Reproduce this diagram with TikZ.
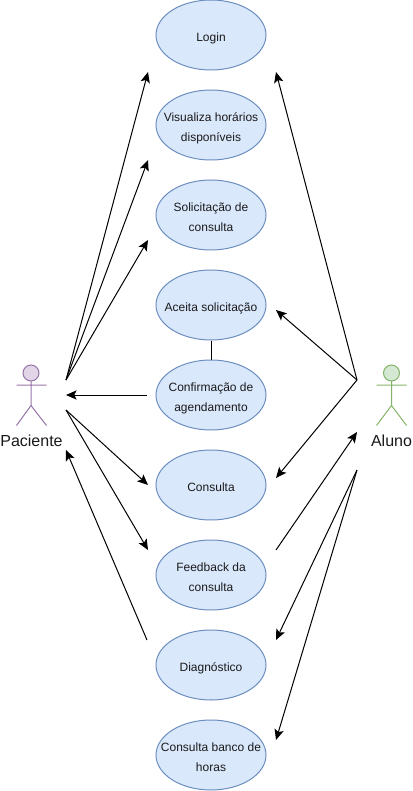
\documentclass[tikz,border=0pt]{standalone}
\usepackage{fontspec}
\setmainfont{Liberation Sans}
\usetikzlibrary{arrows.meta,shapes.geometric}
\definecolor{ucfill}{HTML}{DAE8FC}
\definecolor{ucline}{HTML}{6C8EBF}
\definecolor{pfill}{HTML}{E1D5E7}
\definecolor{pline}{HTML}{9673A6}
\definecolor{afill}{HTML}{D5E8D4}
\definecolor{aline}{HTML}{82B366}
\definecolor{txt}{HTML}{1A1A1A}
\newcommand{\uctext}[1]{\makebox[0pt]{\raisebox{-4.1pt}[0pt][0pt]{\begin{tabular}[c]{@{}c@{}}#1\end{tabular}}}}
\tikzset{
  x=0.75pt,y=-0.75pt,
  usecase/.style={ellipse,draw=ucline,fill=ucfill,line width=0.75pt,minimum width=82.5pt,minimum height=52.5pt,inner sep=0pt,font=\fontsize{9}{15}\selectfont,text=txt},
  link/.style={draw=black,line width=0.75pt,-{Stealth[length=8pt,width=7pt,inset=1.8pt]}},
  plain/.style={draw=black,line width=0.75pt},
  actorlabel/.style={font=\fontsize{12}{14}\selectfont,text=txt,inner sep=0pt},
  pactor/.style={draw=pline,line width=0.75pt},
  aactor/.style={draw=aline,line width=0.75pt}
}
\begin{document}
\begin{tikzpicture}
\useasboundingbox (0,0) rectangle (412,791);
\node[usecase] (login) at (211,35) {\uctext{Login}};
\node[usecase] (visual) at (211,125) {\uctext{Visualiza horários\\disponíveis}};
\node[usecase] (solic) at (211,215) {\uctext{Solicitação de\\consulta}};
\node[usecase] (aceita) at (211,305) {\uctext{Aceita solicitação}};
\node[usecase] (confirm) at (211,395) {\uctext{Confirmação de\\agendamento}};
\node[usecase] (consulta) at (211,485) {\uctext{Consulta}};
\node[usecase] (feedback) at (211,575) {\uctext{Feedback da\\consulta}};
\node[usecase] (diag) at (211,665) {\uctext{Diagnóstico}};
\node[usecase] (banco) at (211,755) {\uctext{Consulta banco de\\horas}};
% actors
\draw[pactor,fill=pfill] (31,373) circle[radius=8];
\draw[pactor] (31,381) -- (31,405.5) (16.5,385) -- (46.5,385) (16.5,425.5) -- (31,405.5) -- (46.5,425.5);
\node[actorlabel] (paciente) at (31.5,441) {Paciente};
\draw[aactor,fill=afill] (391.5,373) circle[radius=8];
\draw[aactor] (391.5,381) -- (391.5,405.5) (376.5,385) -- (406.5,385) (376.5,425.5) -- (391.5,405.5) -- (406.5,425.5);
\node[actorlabel] (aluno) at (391.5,441) {Aluno};
% free ends
\coordinate (p1) at (66,380);
\coordinate (p2) at (66,395);
\coordinate (p3) at (66,410);
\coordinate (p4) at (66,450);
\coordinate (a1) at (357,380);
\coordinate (a2) at (357,432);
\coordinate (a3) at (357,470);
\coordinate (tlogin) at (148,72);
\coordinate (tvisual) at (148,160);
\coordinate (tsolic) at (148,240);
\coordinate (fconfirm) at (147,395);
\coordinate (tconsulta) at (148,485);
\coordinate (tfeedback) at (148,550);
\coordinate (fdiag) at (147,640);
\coordinate (ulogin) at (276,72);
\coordinate (uaceita) at (276,310);
\coordinate (uconsulta) at (276,478);
\coordinate (ffeedback) at (276,550);
\coordinate (udiag) at (276,640);
\coordinate (ubanco) at (276,740);
% connectors
\draw[link] (p1) -- (tlogin);
\draw[link] (p1) -- (tvisual);
\draw[link] (p1) -- (tsolic);
\draw[link] (fconfirm) -- (p2);
\draw[link] (p3) -- (tconsulta);
\draw[link] (p3) -- (tfeedback);
\draw[link] (fdiag) -- (p4);
\draw[link] (a1) -- (ulogin);
\draw[link] (a1) -- (uaceita);
\draw[link] (a1) -- (uconsulta);
\draw[link] (ffeedback) -- (a2);
\draw[link] (a3) -- (udiag);
\draw[link] (a3) -- (ubanco);
\draw[plain] (aceita) -- (confirm);
\end{tikzpicture}
\end{document}
